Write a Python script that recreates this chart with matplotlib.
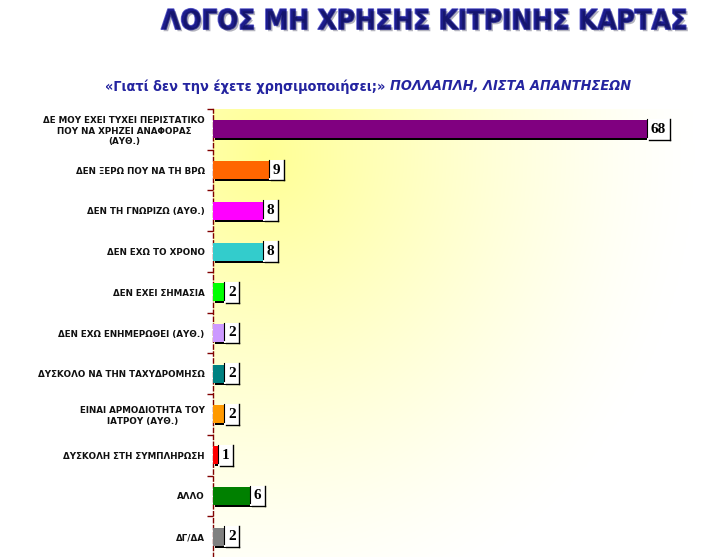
import numpy as np
import matplotlib
matplotlib.use("Agg")
import matplotlib.pyplot as plt
import matplotlib.patheffects as pe
from matplotlib.lines import Line2D

# data (top to bottom as in the chart)
categories = [
    "ΔΕ ΜΟΥ ΕΧΕΙ ΤΥΧΕΙ ΠΕΡΙΣΤΑΤΙΚΟ\nΠΟΥ ΝΑ ΧΡΗΖΕΙ ΑΝΑΦΟΡΑΣ\n(ΑΥΘ.)",
    "ΔΕΝ ΞΕΡΩ ΠΟΥ ΝΑ ΤΗ ΒΡΩ",
    "ΔΕΝ ΤΗ ΓΝΩΡΙΖΩ (ΑΥΘ.)",
    "ΔΕΝ ΕΧΩ ΤΟ ΧΡΟΝΟ",
    "ΔΕΝ ΕΧΕΙ ΣΗΜΑΣΙΑ",
    "ΔΕΝ ΕΧΩ ΕΝΗΜΕΡΩΘΕΙ (ΑΥΘ.)",
    "ΔΥΣΚΟΛΟ ΝΑ ΤΗΝ ΤΑΧΥΔΡΟΜΗΣΩ",
    "ΕΙΝΑΙ ΑΡΜΟΔΙΟΤΗΤΑ ΤΟΥ\nΙΑΤΡΟΥ (ΑΥΘ.)",
    "ΔΥΣΚΟΛΗ ΣΤΗ ΣΥΜΠΛΗΡΩΣΗ",
    "ΑΛΛΟ",
    "ΔΓ/ΔΑ",
]
values = [68, 9, 8, 8, 2, 2, 2, 2, 1, 6, 2]
colors = ["#800080", "#FF6600", "#FF00FF", "#33CCCC", "#00FF00", "#CC99FF",
          "#008080", "#FF9900", "#FF0000", "#008000", "#808080"]

title = "ΛΟΓΟΣ ΜΗ ΧΡΗΣΗΣ ΚΙΤΡΙΝΗΣ ΚΑΡΤΑΣ"
subtitle_q = "«Γιατί δεν την έχετε χρησιμοποιήσει;»"
subtitle_i = "ΠΟΛΛΑΠΛΗ, ΛΙΣΤΑ ΑΠΑΝΤΗΣΕΩΝ"

W, H = 719, 557
fig = plt.figure(figsize=(W / 100, H / 100), dpi=100)
ax = fig.add_axes([213 / W, 0, 1 - 213 / W, (H - 109) / H])

# pale yellow glow, strongest at the top-left
gx, gy = np.meshgrid(np.linspace(0, 1, 300), np.linspace(0, 1, 300))
r = np.sqrt(((gx - 0.1) / 0.85) ** 2 + ((gy - 0.9) / 1.05) ** 2)
t = np.clip(1 - r, 0, 1) ** 1.3
img = np.ones((300, 300, 3))
img[..., 2] = 1 - t * 0.42
ax.imshow(img, extent=(0, 1, 0, 1), transform=ax.transAxes, origin="lower",
          aspect="auto", zorder=0)

y = np.arange(len(values))
ax.barh(y, values, height=0.44, color=colors, zorder=3,
        path_effects=[pe.SimplePatchShadow(offset=(1.2, -1.5), shadow_rgbFace="black", alpha=1),
                      pe.Normal()])

ax.set_xlim(0, 79)
ax.set_ylim(len(values) - 0.5, -0.5)
ax.set_yticks(y)
ax.set_yticklabels(categories, fontsize=6.3, fontweight="bold", color="#111111",
                   multialignment="center")
ax.set_yticks(np.arange(-0.5, len(values) - 0.5, 1), minor=True)
ax.tick_params(axis="y", which="major", length=0, pad=6)
ax.tick_params(axis="y", which="minor", length=4, width=1, color="#800000", direction="out")
ax.set_xticks([])
for s in ["top", "right", "bottom"]:
    ax.spines[s].set_visible(False)
ax.spines["left"].set_color("#800000")
ax.spines["left"].set_linestyle((0, (3, 2)))
ax.spines["left"].set_linewidth(1)

texts = []
for i, v in enumerate(values):
    tx = ax.text(v + 0.35, i, str(v), va="center", ha="left", fontsize=11,
                 fontweight="bold", family="Liberation Serif", color="black", zorder=5,
                 bbox=dict(boxstyle="square,pad=0.25", fc="white", ec="none"))
    texts.append(tx)

fig.text(0.59, 0.962, title, ha="center", va="center", fontsize=19.8, fontweight="bold",
         family="DejaVu Sans", fontstretch="condensed", color="#1c1c8c",
         path_effects=[pe.withStroke(linewidth=1.2, foreground="#5a5ac8"),
                       pe.SimplePatchShadow(offset=(1.5, -1.5)),
                       ])
t1 = fig.text(0.146, 0.845, subtitle_q + " ", ha="left", va="center", fontsize=10.4,
              fontweight="bold", family="DejaVu Sans", fontstretch="condensed",
              color="#2424a0")
fig.canvas.draw()
rend = fig.canvas.get_renderer()
bb = t1.get_window_extent(rend)
fig.text(bb.x1 / W, 0.845, subtitle_i, ha="left", va="center", fontsize=10.4,
         style="italic", fontweight="bold", family="DejaVu Sans", fontstretch="condensed",
         color="#2424a0")

# shadow lines on value boxes
for tx in texts:
    e = tx.get_bbox_patch().get_window_extent(rend)
    fig.add_artist(Line2D([e.x1, e.x1], [e.y0, e.y1], transform=None, color="black", lw=1, zorder=6))
    fig.add_artist(Line2D([e.x0 + 2, e.x1], [e.y0, e.y0], transform=None, color="black", lw=1, zorder=6))
    fig.add_artist(Line2D([e.x0, e.x0], [e.y0 + 3, e.y1], transform=None, color="black", lw=0.8, zorder=6))

fig.savefig("out.png", dpi=100)
